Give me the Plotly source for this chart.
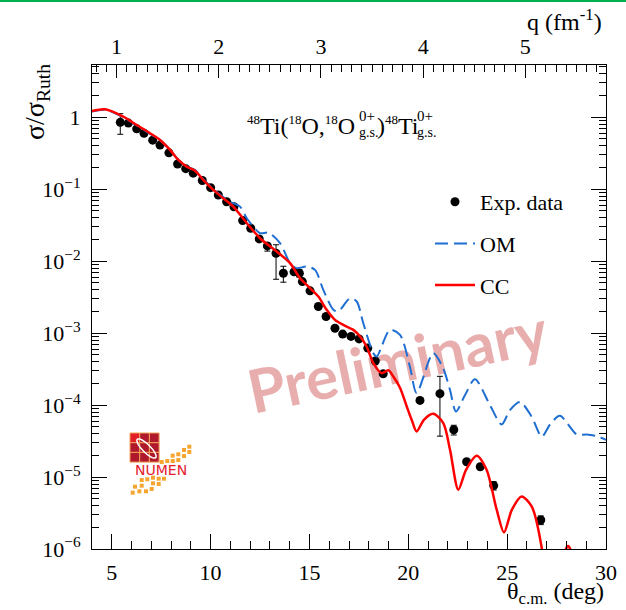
import math
import plotly.graph_objects as go

# ---------------- data ----------------
theta_exp = [5.43, 5.84, 6.26, 6.63, 7.07, 7.44, 7.89, 8.33, 8.74, 9.12,
             9.58, 10.00, 10.39, 10.81, 11.18, 11.62, 12.03, 12.46, 12.87, 13.31,
             13.68, 14.22, 14.49, 14.64, 15.03, 15.45, 15.84, 16.29, 16.68, 17.10,
             17.51, 17.95, 18.33, 18.73, 20.59, 21.60, 22.30, 22.95, 23.64, 24.32,
             26.70]
sigma_exp = [0.85, 0.83, 0.69, 0.60, 0.48, 0.41, 0.32, 0.224, 0.193, 0.167,
             0.132, 0.105, 0.083, 0.067, 0.057, 0.0366, 0.0287, 0.0204, 0.0163, 0.0129,
             0.0068, 0.0071, 0.0068, 0.0052, 0.00387, 0.00234, 0.0017, 0.00117, 0.00097, 0.00090,
             0.00083, 0.00062, 0.00041, 0.000272, 0.000116, 0.000144, 4.54e-5, 1.63e-5, 1.39e-5, 7.6e-6,
             2.53e-6]
err_plus = [0.27, 0.03, 0.02, 0.02, 0.015, 0.012, 0.01, 0.007, 0.006, 0.005,
            0.004, 0.003, 0.0025, 0.002, 0.0017, 0.0011, 0.0009, 0.0006, 0.0012, 0.004,
            0.0017, 0.0004, 0.0008, 0.00016, 0.00012, 0.00007, 0.00005, 0.00004, 0.00003, 0.00003,
            0.00003, 0.00002, 0.000015, 0.00001, 4e-6, 1.07e-4, 0.7e-5, 0.7e-6, 0.8e-6, 1.0e-6,
            0.35e-6]
err_minus = [0.27, 0.03, 0.02, 0.02, 0.015, 0.012, 0.01, 0.007, 0.006, 0.005,
             0.004, 0.003, 0.0025, 0.002, 0.0017, 0.0011, 0.0009, 0.0006, 0.0025, 0.0073,
             0.0017, 0.0004, 0.0008, 0.00016, 0.00012, 0.00007, 0.00005, 0.00004, 0.00003, 0.00003,
             0.00003, 0.00002, 0.000015, 0.00001, 4e-6, 1.07e-4, 0.7e-5, 0.7e-6, 0.8e-6, 1.0e-6,
             0.35e-6]

theta_om = [4.0, 4.66, 5.58, 6.26, 6.93, 7.44, 7.95, 8.37, 8.79, 9.21,
            9.63, 10.14, 10.64, 10.98, 11.49, 11.83, 12.50, 12.92, 13.51, 14.02,
            14.35, 14.86, 15.28, 15.70, 16.21, 16.46, 17.05, 17.39, 17.72, 18.23,
            18.40, 19.07, 19.58, 20.08, 20.42, 21.26, 21.75, 22.11, 22.41, 22.87,
            23.37, 24.13, 24.72, 25.14, 25.65, 26.24, 26.75, 27.17, 27.67, 28.52,
            29.02, 29.53, 30.0]
sigma_om = [1.20, 1.27, 1.00, 0.77, 0.59, 0.478, 0.35, 0.255, 0.208, 0.185,
            0.138, 0.100, 0.078, 0.067, 0.0573, 0.0395, 0.0245, 0.0249, 0.0178, 0.00938,
            0.0080, 0.00841, 0.00757, 0.00399, 0.00211, 0.00200, 0.00306, 0.00275, 0.00138, 0.000527,
            0.000473, 0.00111, 0.000946, 0.000344, 0.000147, 0.000527, 0.000331, 0.000162, 8.15e-5, 0.000138,
            0.000229, 0.000100, 5.37e-5, 8.5e-5, 0.000110, 6.9e-5, 3.63e-5, 5.37e-5, 7.08e-5, 3.9e-5,
            3.9e-5, 3.7e-5, 3.3e-5]

theta_cc = [4.0, 4.66, 5.58, 6.26, 6.93, 7.44, 7.95, 8.37, 8.79, 9.21,
            9.63, 10.14, 10.64, 11.15, 11.83, 12.50, 13.34, 14.02, 14.52, 15.03,
            15.45, 15.87, 16.29, 16.71, 17.22, 17.56, 17.89, 18.23, 18.65, 18.99,
            19.24, 19.58, 19.92, 20.17, 20.42, 20.79, 21.26, 21.77, 22.11, 22.53,
            22.92, 23.46, 23.96, 24.47, 24.84, 25.24, 25.73, 26.24, 26.75, 26.91,
            27.3, 27.7, 27.9, 28.08, 28.26, 28.45, 28.9]
sigma_cc = [1.22, 1.29, 1.02, 0.78, 0.60, 0.484, 0.352, 0.255, 0.206, 0.181,
            0.135, 0.0977, 0.075, 0.0573, 0.0337, 0.0208, 0.0136, 0.00938, 0.00581, 0.00422,
            0.00322, 0.00211, 0.00153, 0.00130, 0.00111, 0.000897, 0.000652, 0.000383, 0.000278, 0.000304,
            0.000249, 0.000174, 9.57e-5, 6.25e-5, 4.30e-5, 6.25e-5, 7.57e-5, 5.62e-5, 2.39e-5, 6.67e-6,
            1.26e-5, 1.98e-5, 1.26e-5, 3.52e-6, 1.70e-6, 3.52e-6, 5.38e-6, 3.91e-6, 1.03e-6, 3.7e-7,
            1.0e-7, 2.5e-7, 8.9e-7, 1.10e-6, 8.9e-7, 2.5e-7, 5e-8]

x_tick_vals = [5, 10, 15, 20, 25, 30]
y_tick_vals = [1, 1e-1, 1e-2, 1e-3, 1e-4, 1e-5, 1e-6]
y_tick_text = ["1", "10<sup>−1</sup>", "10<sup>−2</sup>", "10<sup>−3</sup>",
               "10<sup>−4</sup>", "10<sup>−5</sup>", "10<sup>−6</sup>"]
q_tick_vals = [1, 2, 3, 4, 5]
theta_range = [4, 30]
log_y_range = [-6, 0.726]
q_range = [0.760, 5.789]

# ---------------- geometry helpers ----------------
W, H = 626, 610
PL, PR, PT, PB = 92, 606, 65, 549
SERIF = "Liberation Serif, Tinos, Times New Roman, Times, DejaVu Serif, serif"


def px(x):
    return (x - PL) / (PR - PL)


def py(y):
    return (PB - y) / (PB - PT)


def small_sup(s, size=13):
    return f'<sup><span style="font-size:{size}px">{s}</span></sup>'


fig = go.Figure()

fig.add_trace(go.Scatter(
    x=theta_exp, y=sigma_exp, mode="markers", name="Exp. data",
    legendgroup="exp",
    marker=dict(color="black", size=9, symbol="circle"),
    error_y=dict(type="data", symmetric=False, array=err_plus, arrayminus=err_minus,
                 color="black", thickness=1, width=3),
))
fig.add_trace(go.Scatter(
    x=theta_om, y=sigma_om, mode="lines", name="OM", legendgroup="om",
    line=dict(color="#1f6fd2", width=2, dash="13px,6px", shape="spline", smoothing=0.8),
))
fig.add_trace(go.Scatter(
    x=theta_cc, y=sigma_cc, mode="lines", name="CC", legendgroup="cc",
    line=dict(color="#ff0000", width=2.5, shape="spline", smoothing=0.8),
))
# invisible helper so the top q axis is drawn
fig.add_trace(go.Scatter(x=q_range, y=[1e-3, 1e-3], xaxis="x2", yaxis="y",
                         mode="markers", marker=dict(opacity=0), showlegend=False,
                         hoverinfo="skip"))

tickfont = dict(family=SERIF, size=22, color="black")

fig.update_layout(
    width=W, height=H,
    margin=dict(l=PL, r=W - PR, t=PT, b=H - PB, autoexpand=False),
    paper_bgcolor="white", plot_bgcolor="white",
    font=dict(family=SERIF, color="black"),
    showlegend=True,
    legend=dict(x=px(430), y=py(181), xanchor="left", yanchor="top",
                font=dict(family=SERIF, size=22, color="black"),
                bgcolor="rgba(0,0,0,0)", traceorder="grouped", tracegroupgap=10,
                itemwidth=40),
    xaxis=dict(range=theta_range, tickmode="array", tickvals=x_tick_vals,
               ticks="inside", ticklen=15, tickcolor="black", tickwidth=1,
               minor=dict(dtick=1, tick0=0, ticks="inside", ticklen=8, tickcolor="black", showgrid=False),
               showgrid=False, zeroline=False, showline=True, linecolor="black", linewidth=1,
               mirror=True, tickfont=tickfont, ticklabelstandoff=4),
    xaxis2=dict(range=q_range, overlaying="x", side="top", anchor="y",
                tickmode="array", tickvals=q_tick_vals,
                ticks="inside", ticklen=13, tickcolor="black", tickwidth=1,
                minor=dict(dtick=0.1, tick0=0, ticks="inside", ticklen=7, tickcolor="black", showgrid=False),
                showgrid=False, zeroline=False, showline=False, tickfont=tickfont,
                ticklabelstandoff=6),
    yaxis=dict(type="log", range=log_y_range, tickmode="array", tickvals=y_tick_vals,
               ticktext=y_tick_text, ticks="inside", ticklen=15, tickcolor="black", tickwidth=1,
               minor=dict(dtick="D1", ticks="inside", ticklen=7, tickcolor="black", showgrid=False),
               showgrid=False, zeroline=False, showline=True, linecolor="black", linewidth=1,
               mirror="ticks", tickfont=tickfont, ticklabelstandoff=6),
)

annotations = []
# axis titles
annotations.append(dict(xref="paper", yref="paper", x=px(37), y=py(62), xanchor="center",
                         yanchor="top", textangle=-90, showarrow=False,
                         text="σ/σ<sub>Ruth</sub>", font=dict(family=SERIF, size=28, color="black")))
annotations.append(dict(xref="paper", yref="paper", x=px(606), y=py(593), xanchor="right",
                         yanchor="middle", showarrow=False,
                         text="θ<sub>c.m.</sub> (deg)", font=dict(family=SERIF, size=24, color="black")))
annotations.append(dict(xref="paper", yref="paper", x=px(604), y=py(20), xanchor="right",
                         yanchor="middle", showarrow=False,
                         text="q (fm<sup>-1</sup>)", font=dict(family=SERIF, size=24, color="black")))

# reaction label, with stacked super/subscripts
main_font = dict(family=SERIF, size=24, color="black")
sup_font = dict(family=SERIF, size=15, color="black")
sub_font = dict(family=SERIF, size=14, color="black")
annotations.append(dict(xref="paper", yref="paper", x=px(357), y=py(126), xanchor="right",
                         yanchor="middle", showarrow=False,
                         text=small_sup("48") + "Ti(" + small_sup("18") + "O," + small_sup("18") + "O",
                         font=main_font))
annotations.append(dict(xref="paper", yref="paper", x=px(375), y=py(126), xanchor="left",
                         yanchor="middle", showarrow=False,
                         text=")" + small_sup("48") + "Ti", font=main_font))
for xl in (357, 415):
    annotations.append(dict(xref="paper", yref="paper", x=px(xl), y=py(116), xanchor="left",
                             yanchor="middle", showarrow=False, text="0+", font=sup_font))
    annotations.append(dict(xref="paper", yref="paper", x=px(xl), y=py(132), xanchor="left",
                             yanchor="middle", showarrow=False, text="g.s.", font=sub_font))

# NUMEN logo text
annotations.append(dict(xref="paper", yref="paper", x=px(161), y=py(470), xanchor="center",
                         yanchor="middle", showarrow=False, text="NUMEN",
                         font=dict(family="DejaVu Sans", size=14, color="#e5202e")))
fig.update_layout(annotations=annotations)

shapes = []
# green line at the top edge of the image
shapes.append(dict(type="line", xref="paper", yref="paper", x0=px(0), x1=px(626),
                   y0=py(1), y1=py(1), line=dict(color="#00b050", width=2)))
# "Preliminary" watermark below the data
shapes.append(dict(type="rect", xref="paper", yref="paper", x0=px(300), x1=px(494),
                   y0=py(382), y1=py(336), line=dict(width=0), fillcolor="rgba(0,0,0,0)",
                   layer="below",
                   label=dict(text="<b>Preliminary</b>", textangle=-12,
                              font=dict(family="Lato", size=60, color="rgba(222,140,140,0.7)"),
                              textposition="middle center")))
# NUMEN logo: red 3x3 block
cell = 9.7
lx0, ly0 = 130, 433
for i in range(3):
    for j in range(3):
        col = "#e11f26" if (i == 0 and j == 0) else "#b0182c"
        shapes.append(dict(type="rect", xref="paper", yref="paper",
                           x0=px(lx0 + i * cell), x1=px(lx0 + (i + 1) * cell),
                           y0=py(ly0 + j * cell), y1=py(ly0 + (j + 1) * cell),
                           fillcolor=col, line=dict(color="#f3a25a", width=1), layer="above"))
# white ellipse in the block (rotated 45 degrees)
cx, cy, a, b = 146.5, 448.5, 13.0, 4.0
pts = []
for k in range(41):
    t = 2 * math.pi * k / 40
    ex, ey = a * math.cos(t), b * math.sin(t)
    rx = cx + (ex - ey) / math.sqrt(2)
    ry = cy + (ex + ey) / math.sqrt(2)
    pts.append((px(rx), py(ry)))
path = "M " + " L ".join(f"{u:.5f},{v:.5f}" for u, v in pts) + " Z"
shapes.append(dict(type="path", xref="paper", yref="paper", path=path,
                   line=dict(color="white", width=1.5), fillcolor="rgba(0,0,0,0)", layer="above"))
# orange squares of the logo
logo_sq = [(189.3, 446.7), (189.3, 452), (184, 450), (184, 456), (178.3, 454.3), (178.3, 460),
           (172.7, 455.7), (172.7, 461), (167.3, 461), (161.7, 462), (164, 478.7), (158.7, 478.7),
           (158.7, 484), (153, 477.7), (153, 483.3), (151.7, 489), (147.3, 479.3), (141.7, 480),
           (141.7, 485.7), (146, 491.3), (139.3, 491.3), (135, 486.7), (132.7, 492.7)]
for (sx, sy) in logo_sq:
    shapes.append(dict(type="rect", xref="paper", yref="paper",
                       x0=px(sx - 2), x1=px(sx + 2), y0=py(sy + 2), y1=py(sy - 2),
                       fillcolor="#f6a530", line=dict(width=0), layer="above"))
fig.update_layout(shapes=shapes)

fig.write_html("out.html")
